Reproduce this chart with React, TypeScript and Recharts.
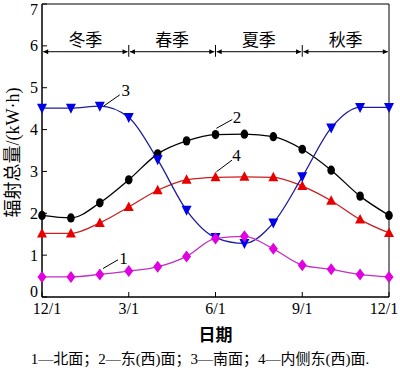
import React from "react";
import { LineChart, Line, XAxis, YAxis, ReferenceLine, ReferenceArea, ReferenceDot } from "recharts";

// month index 0..12 -> 12/1 ... 12/1
const monthLabels = ["12/1", "1/1", "2/1", "3/1", "4/1", "5/1", "6/1", "7/1", "8/1", "9/1", "10/1", "11/1", "12/1"];
const xTicks = [0, 3, 6, 9, 12];
const yTicks = [0, 1, 2, 3, 4, 5, 6, 7];

const north = [0.48, 0.48, 0.54, 0.62, 0.72, 0.97, 1.4, 1.45, 1.15, 0.76, 0.66, 0.54, 0.48];
const east = [1.95, 1.89, 2.25, 2.8, 3.42, 3.73, 3.88, 3.89, 3.83, 3.53, 3.03, 2.41, 1.95];
const south = [4.51, 4.51, 4.56, 4.29, 3.28, 2.07, 1.42, 1.28, 1.77, 2.87, 4.04, 4.53, 4.53];
const inner = [1.52, 1.52, 1.77, 2.15, 2.55, 2.8, 2.86, 2.87, 2.86, 2.65, 2.3, 1.85, 1.53];

const seasons = [
  { name: "冬季", from: 0, to: 3 },
  { name: "春季", from: 3, to: 6 },
  { name: "夏季", from: 6, to: 9 },
  { name: "秋季", from: 9, to: 12 },
];

// curve number tags: text position and leader line
const tags = [
  { text: "1", x: 2.82, y: 0.94, line: [2.11, 0.68, 2.63, 0.89] },
  { text: "2", x: 6.74, y: 4.31, line: [6.03, 4.03, 6.58, 4.24] },
  { text: "3", x: 2.9, y: 4.94, line: [2.13, 4.56, 2.69, 4.83] },
  { text: "4", x: 6.73, y: 3.39, line: [6.03, 2.99, 6.57, 3.27] },
];

const data = monthLabels.map((_, i) => ({
  m: i,
  north: north[i],
  east: east[i],
  south: south[i],
  inner: inner[i],
}));

const serif = "'Liberation Serif', 'Noto Sans CJK SC', serif";
const bandY = 5.86;

function CircleDot(p: any) {
  return <ellipse key={p.index} cx={p.cx} cy={p.cy} rx={3.8} ry={4.6} fill="#000" />;
}
function UpDot(p: any) {
  const { cx, cy } = p;
  return <polygon key={p.index} points={`${cx},${cy - 5.5} ${cx - 5},${cy + 4} ${cx + 5},${cy + 4}`} fill="#e80000" />;
}
function DownDot(p: any) {
  const { cx, cy } = p;
  return <polygon key={p.index} points={`${cx - 5},${cy - 4.5} ${cx + 5},${cy - 4.5} ${cx},${cy + 5.5}`} fill="#0000e8" />;
}
function DiamondDot(p: any) {
  const { cx, cy } = p;
  return <polygon key={p.index} points={`${cx},${cy - 6} ${cx + 4.5},${cy} ${cx},${cy + 6} ${cx - 4.5},${cy}`} fill="#e000e0" />;
}

function XTick(p: any) {
  const v = p.payload.value;
  const shift = v === 0 ? 5 : v === 12 ? -5 : 0;
  return (
    <text x={p.x + shift} y={p.y} dy="0.71em" textAnchor="middle" fill="#000" fontSize={16} fontFamily={serif}>
      {monthLabels[v]}
    </text>
  );
}
function YTick(p: any) {
  const v = p.payload.value;
  return (
    <text x={p.x} y={p.y + (v === 0 ? -6 : 0)} dy="0.35em" textAnchor="end" fill="#000" fontSize={16} fontFamily={serif}>
      {v}
    </text>
  );
}

export default function App() {
  return (
    <div style={{ position: "absolute", left: 0, top: 0, width: 400, height: 373, background: "#fff" }}>
      <LineChart width={400} height={373} data={data} margin={{ top: 4, right: 11, bottom: 26, left: 0 }} style={{ fontFamily: serif }}>
        <defs>
          <marker id="arr" viewBox="0 0 10 10" refX="10" refY="5" markerWidth="8" markerHeight="5" orient="auto-start-reverse" markerUnits="userSpaceOnUse">
            <path d="M0,0 L10,5 L0,10 z" fill="#000" />
          </marker>
        </defs>
        <XAxis
          dataKey="m"
          type="number"
          domain={[0, 12]}
          ticks={xTicks}
          stroke="#000"
          tick={XTick}
          tickSize={-5}
          tickMargin={11}
          height={50}
          label={{ value: "日期", position: "insideBottom", offset: 6, fill: "#000", fontSize: 17, fontWeight: 700, fontFamily: "'Noto Sans CJK SC'" }}
        />
        <YAxis
          type="number"
          domain={[0, 7]}
          ticks={yTicks}
          stroke="#000"
          tick={YTick}
          tickSize={-5}
          tickMargin={9}
          width={42}
          label={{ value: "辐射总量/(kW·h)", angle: -90, position: "center", dx: -8, dy: 2, fill: "#000", fontSize: 18 }}
        />
        <ReferenceArea x1={0} x2={12} y1={0} y2={7} fill="none" stroke="#000" strokeWidth={1} />
        {seasons.map((s) => (
          <ReferenceLine
            key={s.name}
            segment={[{ x: s.from + 0.04, y: bandY }, { x: s.to - 0.04, y: bandY }]}
            stroke="#000"
            strokeWidth={1}
            markerStart="url(#arr)"
            markerEnd="url(#arr)"
          />
        ))}
        {[3, 6, 9].map((x) => (
          <ReferenceLine key={x} segment={[{ x, y: 5.74 }, { x, y: 6.02 }]} stroke="#000" strokeWidth={1} />
        ))}
        {seasons.map((s) => (
          <ReferenceDot
            key={"l" + s.name}
            x={(s.from + s.to) / 2}
            y={6.14}
            r={0}
            fill="none"
            stroke="none"
            label={{ value: s.name, position: "center", fill: "#000", fontSize: 17, fontFamily: "'Noto Sans CJK SC'" }}
          />
        ))}
        {tags.map((t) => (
          <ReferenceLine
            key={"t" + t.text}
            segment={[{ x: t.line[0], y: t.line[1] }, { x: t.line[2], y: t.line[3] }]}
            stroke="#000"
            strokeWidth={1}
          />
        ))}
        {tags.map((t) => (
          <ReferenceDot
            key={"d" + t.text}
            x={t.x}
            y={t.y}
            r={0}
            fill="none"
            stroke="none"
            label={{ value: t.text, position: "center", fill: "#000", fontSize: 17 }}
          />
        ))}
        <Line type="monotone" dataKey="east" stroke="#000" strokeWidth={1.3} dot={CircleDot} isAnimationActive={false} />
        <Line type="monotone" dataKey="inner" stroke="#c82020" strokeWidth={1.3} dot={UpDot} isAnimationActive={false} />
        <Line type="monotone" dataKey="south" stroke="#1c1ca0" strokeWidth={1.3} dot={DownDot} isAnimationActive={false} />
        <Line type="monotone" dataKey="north" stroke="#c030c0" strokeWidth={1.3} dot={DiamondDot} isAnimationActive={false} />
      </LineChart>
      <div
        style={{
          position: "absolute",
          left: 0,
          top: 347,
          width: 400,
          textAlign: "center",
          fontFamily: serif,
          fontSize: 15,
          color: "#000",
          whiteSpace: "nowrap",
        }}
      >
        1—北面；2—东(西)面；3—南面；4—内侧东(西)面.
      </div>
    </div>
  );
}
